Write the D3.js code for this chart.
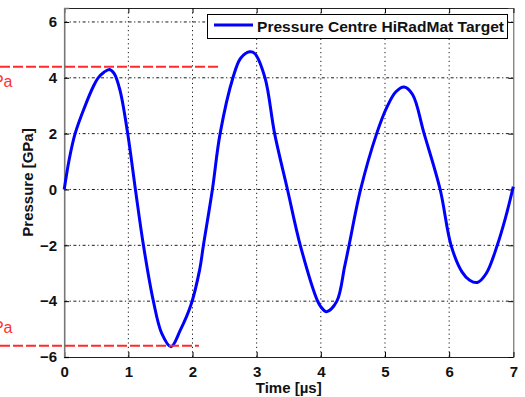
<!DOCTYPE html>
<html><head><meta charset="utf-8">
<script src="https://cdn.jsdelivr.net/npm/d3@7"></script>
<style>body{margin:0;background:#fff}svg{display:block}text{font-family:"Liberation Sans",Arial,sans-serif}</style>
</head><body><svg id="c" width="525" height="397"></svg>
<script>
const timeUs = [0,0.08,0.17,0.32,0.45,0.53,0.62,0.705,0.78,0.87,0.99,1.11,1.235,1.39,1.52,1.665,1.81,1.975,2.11,2.17,2.31,2.43,2.63,2.75,2.89,2.97,3.13,3.28,3.48,3.68,3.95,4.0,4.09,4.25,4.37,4.44,4.62,4.87,5.03,5.17,5.30,5.43,5.61,5.86,6.03,6.2,6.32,6.44,6.58,6.75,6.88,7.0];
const pressureGPa = [0,1.1,2.0,2.96,3.67,4.0,4.2,4.30,4.15,3.55,2.0,0.0,-2.0,-4.0,-5.15,-5.63,-5.04,-4.14,-2.89,-2.0,0.0,2.0,4.0,4.7,4.93,4.87,4.0,2.0,0.0,-2.0,-4.0,-4.2,-4.38,-4.0,-2.77,-2.0,0.0,2.0,2.95,3.5,3.67,3.4,2.0,0.0,-2.0,-2.95,-3.25,-3.33,-3.0,-2.0,-1.0,0.1];
const xTicks = [0,1,2,3,4,5,6,7];
const yTicks = [-6,-4,-2,0,2,4,6];
const seriesName = "Pressure Centre HiRadMat Target";
const xTitle = "Time [\u00b5s]";
const yTitle = "Pressure [GPa]";
const refLevels = [4.4, -5.6];
const refLabels = ["4.4 GPa", "-5.6 GPa"];
const refEnds = [2.4, 2.1];

const svg = d3.select("#c");
const L=64.2, R=513.3, T=8, B=357;
const x = d3.scaleLinear().domain([0,7]).range([L,R]);
const y = d3.scaleLinear().domain([-6,6.5]).range([B,T]);

// grid
const g = svg.append("g");
g.selectAll(".vg").data(xTicks.filter(d=>d>0&&d<7)).enter().append("line")
 .attr("x1",d=>x(d)).attr("x2",d=>x(d)).attr("y1",T).attr("y2",B)
 .attr("stroke","#000").attr("stroke-width",0.9).attr("stroke-dasharray","1.2,3.2");
g.selectAll(".hg").data(yTicks.filter(d=>d>-6)).enter().append("line")
 .attr("x1",L).attr("x2",R).attr("y1",d=>y(d)).attr("y2",d=>y(d))
 .attr("stroke","#000").attr("stroke-width",0.9).attr("stroke-dasharray","3,2.5,1.2,2.5");

// axes
const xa = svg.append("g").attr("transform",`translate(0,${B})`)
 .call(d3.axisBottom(x).tickValues(xTicks).tickSize(-5).tickPadding(9).tickFormat(d3.format("d")));
const xaT = svg.append("g").attr("transform",`translate(0,${T})`)
 .call(d3.axisTop(x).tickValues(xTicks).tickSize(-5).tickFormat(""));
const ya = svg.append("g").attr("transform",`translate(${L},0)`)
 .call(d3.axisLeft(y).tickValues(yTicks).tickSize(-5).tickPadding(7).tickFormat(d=>d<0?"\u2212"+Math.abs(d):d));
const yaR = svg.append("g").attr("transform",`translate(${R},0)`)
 .call(d3.axisRight(y).tickValues(yTicks).tickSize(-5).tickFormat(""));
[xa,xaT,ya,yaR].forEach(a=>{
  a.selectAll(".domain").attr("stroke","#222").attr("stroke-width",1);
  a.selectAll(".tick line").attr("stroke","#000");
  a.selectAll("text").attr("font-size",15).attr("font-weight","bold").attr("fill","#111")
   .attr("font-family","'Liberation Sans',Arial,sans-serif");
});
ya.select(".domain").attr("stroke","#777").attr("stroke-width",1.6);
yaR.select(".domain").attr("stroke","#555");

// titles
svg.append("text").attr("x",(L+R)/2).attr("y",393).attr("text-anchor","middle")
 .attr("font-size",15).attr("font-weight","bold").attr("fill","#111").text(xTitle);
svg.append("text").attr("transform",`translate(33,${(T+B)/2}) rotate(-90)`).attr("text-anchor","middle")
 .attr("font-size",15).attr("font-weight","bold").attr("fill","#111").text(yTitle);

// curve
const line = d3.line().x((d,i)=>x(timeUs[i])).y(d=>y(d)).curve(d3.curveCatmullRom.alpha(0.5));
svg.append("path").attr("d",line(pressureGPa)).attr("fill","none")
 .attr("stroke","#0000ff").attr("stroke-width",3).attr("stroke-linejoin","round");

// reference lines
refLevels.forEach((v,i)=>{
  svg.append("line").attr("x1",0).attr("x2",x(refEnds[i])).attr("y1",y(v)).attr("y2",y(v))
   .attr("stroke","#ff2a2a").attr("stroke-width",2).attr("stroke-dasharray","10,3");
  svg.append("text").attr("x",12.5).attr("y",y(v)+(i===0?20.5:-13)).attr("text-anchor","end")
   .attr("font-size",16).attr("fill","#ff3030").text(refLabels[i]);
});

// legend
const lg = svg.append("g");
lg.append("rect").attr("x",207.5).attr("y",14.5).attr("width",300).attr("height",24)
 .attr("fill","#fff").attr("stroke","#000").attr("stroke-width",1);
lg.append("line").attr("x1",214).attr("x2",253).attr("y1",25).attr("y2",25)
 .attr("stroke","#0000ff").attr("stroke-width",3);
lg.append("text").attr("x",257).attr("y",31.5).attr("font-size",15).attr("font-weight","bold")
 .attr("fill","#111").attr("textLength",247).attr("lengthAdjust","spacingAndGlyphs").text(seriesName);
</script></body></html>
